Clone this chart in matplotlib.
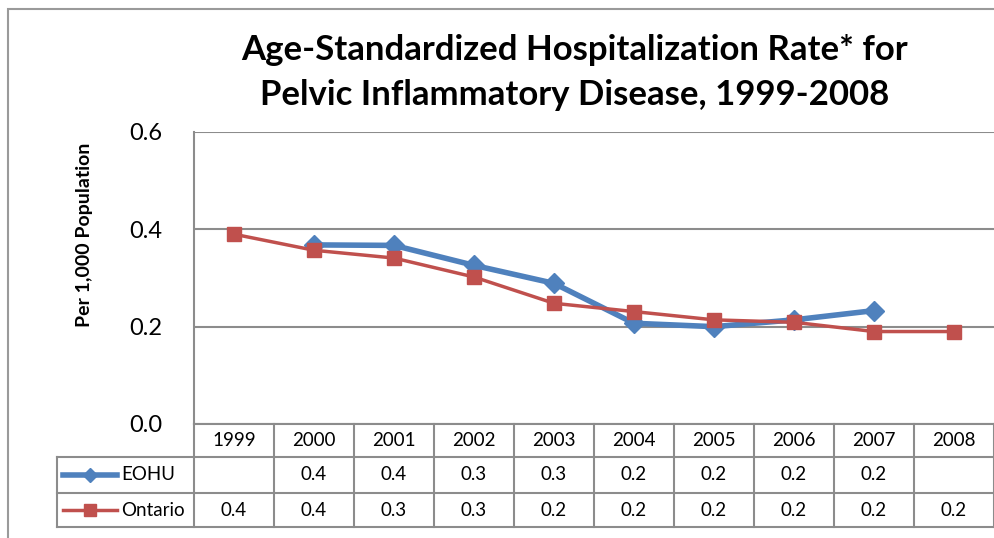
import numpy as np
import matplotlib
matplotlib.use("Agg")
import matplotlib.pyplot as plt
from matplotlib.lines import Line2D
from matplotlib.patches import Rectangle
import matplotlib.transforms as mtransforms

plt.rcParams['font.family'] = ['Lato', 'DejaVu Sans']

years = ['1999', '2000', '2001', '2002', '2003', '2004', '2005', '2006', '2007', '2008']
eohu = [np.nan, 0.368, 0.367, 0.326, 0.289, 0.207, 0.200, 0.214, 0.233, np.nan]
ontario = [0.390, 0.357, 0.341, 0.302, 0.248, 0.231, 0.214, 0.209, 0.190, 0.190]

BLUE = '#4F81BD'
RED = '#C0504D'
GRID = '#8c8c8c'

W, H = 995, 538
fig = plt.figure(figsize=(W / 100, H / 100), dpi=100)

# outer chart border
fig.add_artist(Rectangle((8 / W, -0.1), 1.2, 1 - 9 / H + 0.1, transform=fig.transFigure,
                         fill=False, edgecolor='#9a9a9a', linewidth=1.5))

# plot area in pixels
x0, x1 = 194, 994
y_top, y_bot = 132, 424
ax = fig.add_axes([x0 / W, 1 - y_bot / H, (x1 - x0) / W, (y_bot - y_top) / H])

x = np.arange(len(years))
ax.plot(x, eohu, color=BLUE, linewidth=4, marker='D', markersize=10, zorder=3)
ax.plot(x, ontario, color=RED, linewidth=2.5, marker='s', markersize=10, zorder=4)

ax.set_xlim(-0.5, len(years) - 0.5)
ax.set_ylim(0, 0.6)
ax.set_yticks([0.0, 0.2, 0.4, 0.6])
ax.set_yticklabels(['0.0', '0.2', '0.4', '0.6'], fontsize=17)
ax.tick_params(axis='y', length=0, pad=23)
ax.set_xticks([])
ax.grid(axis='y', color=GRID, linewidth=1.5)
ax.set_axisbelow(True)
for s in ['top', 'right', 'bottom']:
    ax.spines[s].set_visible(False)
ax.spines['left'].set_color(GRID)
ax.spines['left'].set_linewidth(1.5)

fig.text(85 / W, 1 - 235 / H, 'Per 1,000 Population', rotation=90,
         ha='center', va='center', fontsize=14, fontweight='bold')

fig.text(575 / W, 1 - 50 / H, 'Age-Standardized Hospitalization Rate* for',
         ha='center', va='center', fontsize=25, fontweight='bold')
fig.text(575 / W, 1 - 95 / H, 'Pelvic Inflammatory Disease, 1999-2008',
         ha='center', va='center', fontsize=25, fontweight='bold')

# data table below the plot (x in data units, y in pixels from top)
trans = mtransforms.blended_transform_factory(ax.transData, fig.transFigure)
def fy(py):
    return 1 - py / H

rows_y = [424, 457, 493, 527]
leg_left = -0.5 - (x0 - 57) / 80.0
kw = dict(transform=trans, color=GRID, linewidth=1.5, clip_on=False)
# horizontal lines
fig.add_artist(Line2D([-0.5, 9.5], [fy(424), fy(424)], **kw))
for py in rows_y[1:]:
    fig.add_artist(Line2D([leg_left, 9.5], [fy(py), fy(py)], **kw))
# vertical lines
for i in range(len(years) + 1):
    fig.add_artist(Line2D([i - 0.5, i - 0.5], [fy(424), fy(527)], **kw))
fig.add_artist(Line2D([leg_left, leg_left], [fy(457), fy(527)], **kw))

for i, yr in enumerate(years):
    fig.text(i, fy(441), yr, transform=trans, ha='center', va='center', fontsize=13.5)

series = [('EOHU', eohu, BLUE, 'D', 4, 475), ('Ontario', ontario, RED, 's', 2.5, 510)]
for name, vals, col, mk, lw, py in series:
    for i, v in enumerate(vals):
        if not np.isnan(v):
            fig.text(i, fy(py), f'{v:.1f}', transform=trans, ha='center', va='center', fontsize=13.5)
    fig.add_artist(Line2D([63 / W, 90 / W, 117 / W], [fy(py)] * 3, transform=fig.transFigure,
                          color=col, linewidth=lw, marker=mk, markersize=7 if mk == 'D' else 9,
                          markevery=[1], clip_on=False))
    fig.text(121 / W, fy(py), name, ha='left', va='center', fontsize=13.5)

fig.savefig('out.png', dpi=100)
